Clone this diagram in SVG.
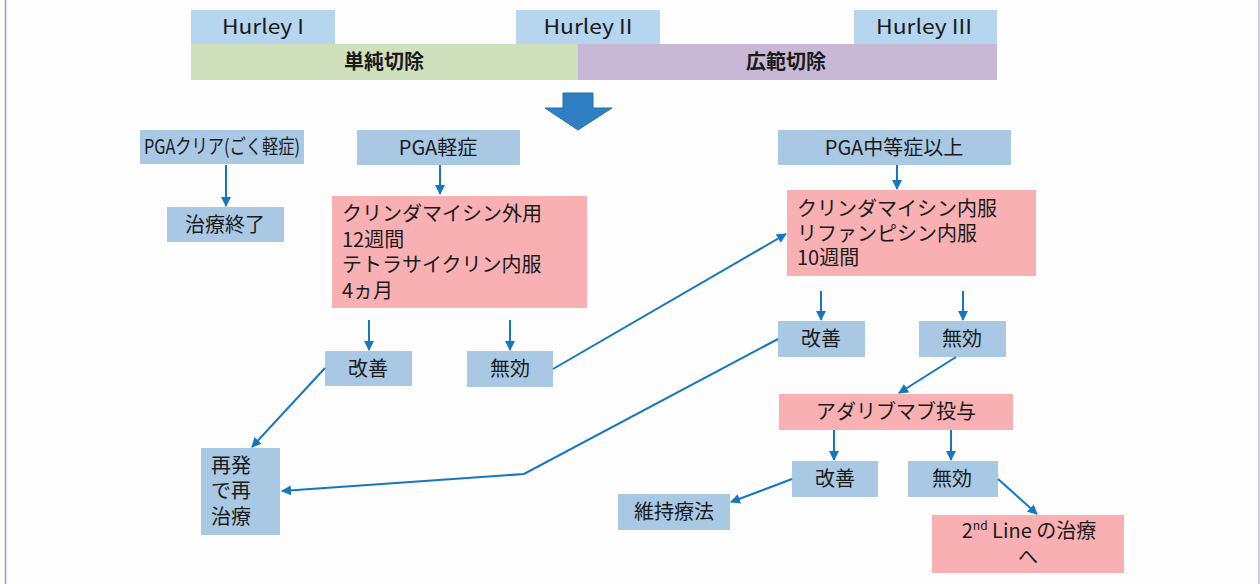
<svg xmlns="http://www.w3.org/2000/svg" width="1260" height="584" viewBox="0 0 1260 584">
<style>
.b{fill:#a8c8e4}
.h{fill:#b6d6f0}
.p{fill:#f8b0b2}
.t{font-family:"Noto Sans CJK JP","Noto Sans",sans-serif;font-size:20px;fill:#1a1a1a}
.c{text-anchor:middle}
.bold{font-weight:bold}
.ln{stroke:#1677c0;stroke-width:2;fill:none}
</style>
<defs>
<marker id="ah" viewBox="0 0 10 10" refX="9" refY="5" markerWidth="5" markerHeight="5" orient="auto" markerUnits="strokeWidth">
<path d="M0,0 L10,5 L0,10 z" fill="#1677c0"/>
</marker>
</defs>
<rect width="1260" height="584" fill="#fdfdfd"/>
<line x1="5.5" y1="0" x2="5.5" y2="584" stroke="#a89ad0" stroke-width="1.5"/>
<line x1="1259" y1="0" x2="1259" y2="584" stroke="#c0b4d8" stroke-width="1.5"/>

<g id="hurley1"><rect class="h" x="191" y="10" width="144" height="34"/><text class="t c" x="263" y="34" textLength="82" lengthAdjust="spacingAndGlyphs">Hurley I</text></g>
<g id="hurley2"><rect class="h" x="516" y="10" width="144" height="34"/><text class="t c" x="588" y="34" textLength="89" lengthAdjust="spacingAndGlyphs">Hurley II</text></g>
<g id="hurley3"><rect class="h" x="854" y="10" width="143" height="34"/><text class="t c" x="924" y="34" textLength="96" lengthAdjust="spacingAndGlyphs">Hurley III</text></g>
<g id="simple"><rect x="191" y="44" width="387" height="36" fill="#cfe0bc"/><text class="t c bold" x="384" y="69">単純切除</text></g>
<g id="wide"><rect x="578" y="44" width="419" height="36" fill="#c8b8d6"/><text class="t c bold" x="786" y="69">広範切除</text></g>
<g id="bigarrow"><path d="M563,93 L593,93 L593,108 L612,108 L578,130 L545,108 L563,108 Z" fill="#2e80c2" stroke="#2470b0" stroke-width="1"/></g>

<g id="pgaclear"><rect class="b" x="140" y="130" width="164" height="34"/><text class="t c" x="222" y="154" textLength="156" lengthAdjust="spacingAndGlyphs">PGAクリア(ごく軽症)</text></g>
<g id="end"><rect class="b" x="167" y="207" width="117" height="35"/><text class="t c" x="225" y="232">治療終了</text></g>
<g id="pgamild"><rect class="b" x="357" y="130" width="163" height="35"/><text class="t c" x="438" y="155">PGA軽症</text></g>
<g id="tx1"><rect class="p" x="332" y="196" width="255" height="112"/>
<text class="t" x="342" y="221"><tspan x="342" y="221">クリンダマイシン外用</tspan><tspan x="342" y="247">12週間</tspan><tspan x="342" y="272">テトラサイクリン内服</tspan><tspan x="342" y="298">4ヵ月</tspan></text></g>
<g id="imp1"><rect class="b" x="325" y="351" width="87" height="35"/><text class="t c" x="368" y="376">改善</text></g>
<g id="nf1"><rect class="b" x="467" y="351" width="86" height="36"/><text class="t c" x="510" y="376">無効</text></g>
<g id="relapse"><rect class="b" x="201" y="448" width="79" height="87"/>
<text class="t" x="211" y="473"><tspan x="211" y="473">再発</tspan><tspan x="211" y="498">で再</tspan><tspan x="211" y="524">治療</tspan></text></g>

<g id="pgamod"><rect class="b" x="778" y="130" width="233" height="35"/><text class="t c" x="894" y="155">PGA中等症以上</text></g>
<g id="tx2"><rect class="p" x="787" y="190" width="249" height="86"/>
<text class="t" x="797" y="216"><tspan x="797" y="216">クリンダマイシン内服</tspan><tspan x="797" y="241">リファンピシン内服</tspan><tspan x="797" y="265">10週間</tspan></text></g>
<g id="imp2"><rect class="b" x="778" y="321" width="87" height="36"/><text class="t c" x="821" y="346">改善</text></g>
<g id="nf2"><rect class="b" x="919" y="321" width="87" height="36"/><text class="t c" x="962" y="346">無効</text></g>
<g id="ada"><rect class="p" x="779" y="394" width="234" height="36"/><text class="t c" x="896" y="419">アダリブマブ投与</text></g>
<g id="imp3"><rect class="b" x="792" y="461" width="86" height="36"/><text class="t c" x="835" y="486">改善</text></g>
<g id="nf3"><rect class="b" x="908" y="461" width="90" height="36"/><text class="t c" x="952" y="486">無効</text></g>
<g id="maint"><rect class="b" x="618" y="494" width="112" height="36"/><text class="t c" x="674" y="519">維持療法</text></g>
<g id="second"><rect class="p" x="932" y="515" width="192" height="58"/>
<text class="t c" x="1029" y="538">2<tspan font-size="12" dy="-8">nd</tspan><tspan dy="8"> Line の治療</tspan></text>
<text class="t c" x="1028" y="564">へ</text></g>

<g id="connectors">
<line class="ln" x1="226" y1="165" x2="226" y2="206" marker-end="url(#ah)"/>
<line class="ln" x1="440" y1="165" x2="440" y2="194" marker-end="url(#ah)"/>
<line class="ln" x1="369" y1="320" x2="369" y2="350" marker-end="url(#ah)"/>
<line class="ln" x1="510" y1="320" x2="510" y2="350" marker-end="url(#ah)"/>
<line class="ln" x1="553" y1="369" x2="786" y2="234" marker-end="url(#ah)"/>
<line class="ln" x1="897" y1="165" x2="897" y2="189" marker-end="url(#ah)"/>
<line class="ln" x1="821" y1="291" x2="821" y2="320" marker-end="url(#ah)"/>
<line class="ln" x1="963" y1="291" x2="963" y2="320" marker-end="url(#ah)"/>
<polyline class="ln" points="778,339 524,474 282,491" marker-end="url(#ah)"/>
<line class="ln" x1="325" y1="368" x2="252" y2="447" marker-end="url(#ah)"/>
<line class="ln" x1="956" y1="357" x2="899" y2="393" marker-end="url(#ah)"/>
<line class="ln" x1="834" y1="430" x2="834" y2="460" marker-end="url(#ah)"/>
<line class="ln" x1="951" y1="430" x2="951" y2="460" marker-end="url(#ah)"/>
<line class="ln" x1="792" y1="479" x2="731" y2="502" marker-end="url(#ah)"/>
<line class="ln" x1="998" y1="479" x2="1037" y2="514" marker-end="url(#ah)"/>
</g>
</svg>
